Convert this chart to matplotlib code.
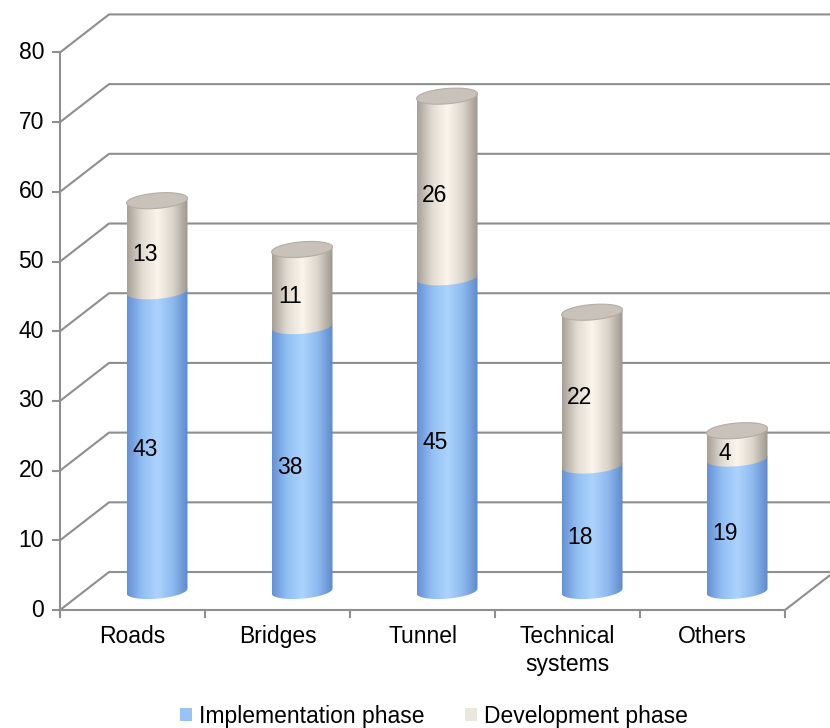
import numpy as np
import matplotlib
matplotlib.use("Agg")
import matplotlib.pyplot as plt
from matplotlib.colors import LinearSegmentedColormap
from matplotlib.patches import Polygon, PathPatch, Patch
from matplotlib.path import Path

plt.rcParams["font.family"] = ["Liberation Sans", "DejaVu Sans"]

# Chart data
CATEGORIES = ["Roads", "Bridges", "Tunnel", "Technical\nsystems", "Others"]
IMPLEMENTATION = [43, 38, 45, 18, 19]
DEVELOPMENT = [13, 11, 26, 22, 4]
Y_TICKS = list(range(0, 90, 10))
SERIES_NAMES = ["Implementation phase", "Development phase"]

# 3D look (depth of the back wall, cylinder size), in data units
DEPTH_X = 0.338
DEPTH_Y = 5.45
CYL_WIDTH = 0.42
CYL_EH = 2.2
TILT = 0.35
FONT_SIZE = 16.5

GRID_COLOR = "#8f8f8f"
BLUE_CMAP = LinearSegmentedColormap.from_list(
    "blue", ["#6590d4", "#93bff4", "#acd3fc", "#8fbaf0", "#5d89cc"]
)
BEIGE_CMAP = LinearSegmentedColormap.from_list(
    "beige", ["#a59f97", "#e2dcd2", "#fbf5ec", "#dcd5cb", "#9c968e"]
)
LEGEND_COLORS = ["#99c2f7", "#ebe7de"]


def ellipse_points(cx, cy, t):
    hw = CYL_WIDTH / 2
    return np.column_stack(
        [cx + hw * np.cos(t), cy + CYL_EH / 2 * np.sin(t) + TILT * np.cos(t)]
    )


def draw_segment(ax, cx, y0, y1, cmap, zorder):
    """Draw one cylinder section between y0 and y1 with a shaded body."""
    hw = CYL_WIDTH / 2
    arc = ellipse_points(cx, y0, np.linspace(np.pi, 2 * np.pi, 60))
    verts = (
        [(cx - hw, y1 - TILT)]
        + arc.tolist()
        + [(cx + hw, y1 + TILT), (cx - hw, y1 - TILT)]
    )
    codes = [Path.MOVETO] + [Path.LINETO] * (len(verts) - 2) + [Path.CLOSEPOLY]
    patch = PathPatch(Path(verts, codes), facecolor="none", edgecolor="none")
    ax.add_patch(patch)
    grad = np.linspace(0, 1, 256).reshape(1, -1)
    im = ax.imshow(
        grad,
        cmap=cmap,
        extent=[cx - hw, cx + hw, y0 - CYL_EH / 2 - TILT, y1 + TILT],
        aspect="auto",
        interpolation="bicubic",
        zorder=zorder,
    )
    im.set_clip_path(patch)


fig = plt.figure(figsize=(8.3, 7.28), dpi=100)
ax = fig.add_axes([0, 0, 1, 1])
ax.axis("off")

# Back wall gridlines
for v in Y_TICKS:
    ax.plot(
        [-0.5, -0.5 + DEPTH_X, 5.5],
        [v, v + DEPTH_Y, v + DEPTH_Y],
        color=GRID_COLOR,
        lw=1.5,
        zorder=1,
    )

# Front axis lines and floor edge
ax.plot([-0.5, -0.5], [0, Y_TICKS[-1]], color=GRID_COLOR, lw=1.5, zorder=2)
ax.plot(
    [-0.5, len(CATEGORIES) - 0.5, len(CATEGORIES) - 0.5 + DEPTH_X],
    [0, 0, DEPTH_Y],
    color=GRID_COLOR,
    lw=1.5,
    zorder=2,
)
for v in Y_TICKS:
    ax.plot([-0.548, -0.5], [v, v], color=GRID_COLOR, lw=1.5, zorder=2)
    ax.text(-0.61, v, str(v), ha="right", va="center", fontsize=FONT_SIZE)
for k in range(len(CATEGORIES) + 1):
    ax.plot([k - 0.5, k - 0.5], [0, -1.0], color=GRID_COLOR, lw=1.5, zorder=2)

for i, cat in enumerate(CATEGORIES):
    ax.text(
        i, -2.1, cat, ha="center", va="top", fontsize=FONT_SIZE, linespacing=1.28
    )

# Cylinders
for i, (imp, dev) in enumerate(zip(IMPLEMENTATION, DEVELOPMENT)):
    cx = i + DEPTH_X / 2
    base = DEPTH_Y / 2
    draw_segment(ax, cx, base, base + imp, BLUE_CMAP, 3 + i * 0.1)
    draw_segment(ax, cx, base + imp, base + imp + dev, BEIGE_CMAP, 3.05 + i * 0.1)
    top = Polygon(
        ellipse_points(cx, base + imp + dev, np.linspace(0, 2 * np.pi, 80)),
        closed=True,
        facecolor="#c8c2bb",
        edgecolor="#b3ada5",
        lw=0.8,
        zorder=3.08 + i * 0.1,
    )
    ax.add_patch(top)

    lx = i + DEPTH_X * 0.25
    ly = DEPTH_Y * 0.27
    ax.text(lx, ly + imp / 2, str(imp), ha="center", va="center",
            fontsize=FONT_SIZE, zorder=5)
    ax.text(lx, ly + imp + dev / 2, str(dev), ha="center", va="center",
            fontsize=FONT_SIZE, zorder=5)

ax.set_xlim(-0.914, 4.810)
ax.set_ylim(-16.93, 87.52)

handles = [Patch(facecolor=c, edgecolor="none") for c in LEGEND_COLORS]
ax.legend(
    handles,
    SERIES_NAMES,
    loc="center",
    bbox_to_anchor=(434 / 830, 1 - 716 / 728),
    ncol=2,
    frameon=False,
    fontsize=FONT_SIZE,
    handlelength=0.52,
    handleheight=0.52,
    handletextpad=0.3,
    columnspacing=1.8,
)

fig.savefig("out.png", dpi=100)
